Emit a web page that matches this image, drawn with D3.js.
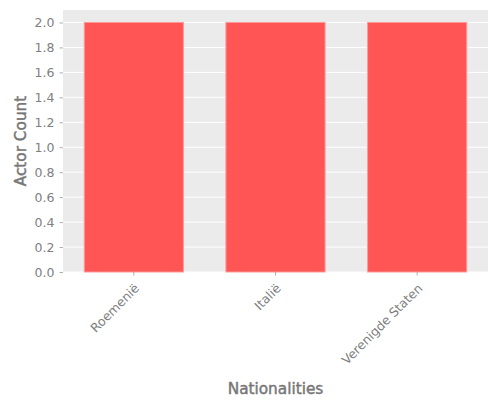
<!DOCTYPE html>
<html><head><meta charset="utf-8">
<script src="https://cdn.jsdelivr.net/npm/d3@7"></script>
<style>body{margin:0;background:#fff}svg{display:block}text{font-family:"DejaVu Sans",sans-serif}</style>
</head><body>
<svg id="c" width="500" height="400"></svg>
<script>
const categories = ["Roemenië", "Italië", "Verenigde Staten"];
const values = [2, 2, 2];
const yTicks = [0, 0.2, 0.4, 0.6, 0.8, 1.0, 1.2, 1.4, 1.6, 1.8, 2.0];
const xTitle = "Nationalities";
const yTitle = "Actor Count";

const svg = d3.select("#c");
const m = {l: 63, r: 12, t: 10, b: 128};
const W = 500, H = 400;
const x = d3.scaleBand().domain(categories).range([m.l, W - m.r]).paddingInner(0.3).paddingOuter(0.15);
const y = d3.scaleLinear().domain([0, d3.max(values) * 1.05]).range([H - m.b, m.t]);

svg.append("rect").attr("x", m.l).attr("y", m.t).attr("width", W - m.l - m.r).attr("height", H - m.t - m.b).attr("fill", "#EBEBEB");

svg.append("g").selectAll("line").data(yTicks).join("line")
  .attr("x1", m.l).attr("x2", W - m.r).attr("y1", d => y(d)).attr("y2", d => y(d))
  .attr("stroke", "#fff").attr("stroke-width", 1);

svg.append("g").selectAll("rect").data(values).join("rect")
  .attr("x", (d, i) => x(categories[i])).attr("width", x.bandwidth())
  .attr("y", d => y(d)).attr("height", d => y(0) - y(d))
  .attr("fill", "#FF5555").attr("stroke", "#FF9999").attr("stroke-width", 1);

const yAxis = svg.append("g").attr("transform", `translate(${m.l},0)`)
  .call(d3.axisLeft(y).tickValues(yTicks).tickFormat(d3.format(".1f")).tickSize(3.5).tickPadding(5));
const xAxis = svg.append("g").attr("transform", `translate(0,${H - m.b})`)
  .call(d3.axisBottom(x).tickSize(3.5).tickPadding(4));
[yAxis, xAxis].forEach(g => {
  g.select(".domain").remove();
  g.selectAll(".tick line").attr("stroke", "#999").attr("stroke-width", 0.8);
  g.selectAll(".tick text").attr("fill", "#808080").attr("font-size", 12.5).attr("font-family", "DejaVu Sans");
});
xAxis.selectAll(".tick text").attr("text-anchor", "end").attr("dy", "0.35em")
  .attr("transform", "translate(3,14) rotate(-45)").attr("y", 0).attr("x", 0);

svg.append("text").attr("x", (m.l + W - m.r) / 2).attr("y", 393.5).attr("text-anchor", "middle")
  .attr("font-size", 15.3).attr("fill", "#777").attr("stroke", "#777").attr("stroke-width", 0.45).text(xTitle);
svg.append("text").attr("transform", `translate(25.5,${(m.t + H - m.b) / 2}) rotate(-90)`).attr("text-anchor", "middle")
  .attr("font-size", 15.3).attr("fill", "#777").attr("stroke", "#777").attr("stroke-width", 0.45).text(yTitle);
</script>
</body></html>
